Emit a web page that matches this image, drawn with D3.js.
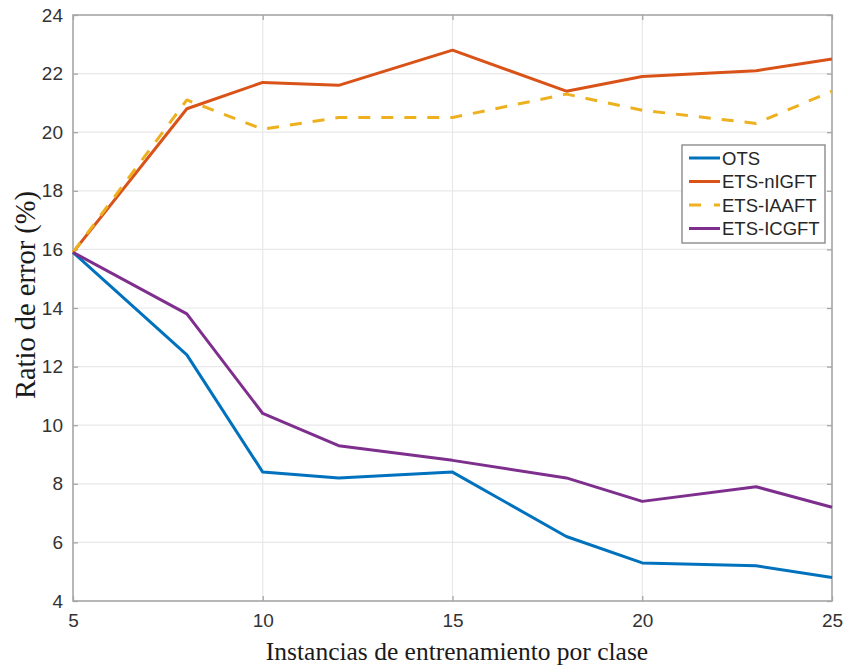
<!DOCTYPE html>
<html>
<head>
<meta charset="utf-8">
<script src="https://cdn.jsdelivr.net/npm/d3@7"></script>
<style>
  html, body { margin: 0; padding: 0; background: #fff; }
  svg { display: block; }
</style>
</head>
<body>
<svg id="chart" width="848" height="669"></svg>
<script>
// Training instances per class (x) and error ratio (%) for each method
const instances = [5, 8, 10, 12, 15, 18, 20, 23, 25];
const ots    = [15.9, 12.4, 8.4, 8.2, 8.4, 6.2, 5.3, 5.2, 4.8];
const nIGFT  = [15.9, 20.8, 21.7, 21.6, 22.8, 21.4, 21.9, 22.1, 22.5];
const iAAFT  = [15.9, 21.1, 20.1, 20.5, 20.5, 21.3, 20.75, 20.3, 21.4];
const iCGFT  = [15.9, 13.8, 10.4, 9.3, 8.8, 8.2, 7.4, 7.9, 7.2];
const seriesNames = ["OTS", "ETS-nIGFT", "ETS-IAAFT", "ETS-ICGFT"];
const xTicks = [5, 10, 15, 20, 25];
const yTicks = [4, 6, 8, 10, 12, 14, 16, 18, 20, 22, 24];

const series = [
  { name: seriesNames[0], values: ots,   color: "#0072BD", dash: null },
  { name: seriesNames[1], values: nIGFT, color: "#D95319", dash: null },
  { name: seriesNames[2], values: iAAFT, color: "#EDB120", dash: "12,11" },
  { name: seriesNames[3], values: iCGFT, color: "#7E2F8E", dash: null }
];

const svg = d3.select("#chart");
const m = { left: 73, right: 16, top: 15, bottom: 68 };
const W = 848, H = 669;
const pw = W - m.left - m.right, ph = H - m.top - m.bottom;

const x = d3.scaleLinear().domain([5, 25]).range([m.left, m.left + pw]);
const y = d3.scaleLinear().domain([4, 24]).range([m.top + ph, m.top]);

const g = svg.append("g");

// grid
g.selectAll("line.gx").data(xTicks.slice(1, -1)).join("line")
  .attr("x1", d => x(d)).attr("x2", d => x(d))
  .attr("y1", m.top).attr("y2", m.top + ph)
  .attr("stroke", "#e8e8e8").attr("stroke-width", 1.2);
g.selectAll("line.gy").data(yTicks.slice(1, -1)).join("line")
  .attr("x1", m.left).attr("x2", m.left + pw)
  .attr("y1", d => y(d)).attr("y2", d => y(d))
  .attr("stroke", "#e8e8e8").attr("stroke-width", 1.2);

// axes (inward ticks on all four sides)
const axisStyle = sel => {
  sel.select(".domain").remove();
  sel.selectAll(".tick line").attr("stroke", "#a6a6a6").attr("stroke-width", 1.3);
  sel.selectAll(".tick text").attr("fill", "#333")
    .style("font-family", "'Liberation Sans', Arial, sans-serif").style("font-size", "19px");
};
svg.append("g").attr("transform", `translate(0,${m.top + ph})`)
  .call(d3.axisBottom(x).tickValues(xTicks).tickSizeInner(-5).tickSizeOuter(0).tickPadding(13))
  .call(axisStyle);
svg.append("g").attr("transform", `translate(0,${m.top})`)
  .call(d3.axisTop(x).tickValues(xTicks).tickSizeInner(-5).tickSizeOuter(0).tickFormat(""))
  .call(axisStyle);
svg.append("g").attr("transform", `translate(${m.left},0)`)
  .call(d3.axisLeft(y).tickValues(yTicks).tickSizeInner(-5).tickSizeOuter(0).tickPadding(10))
  .call(axisStyle);
svg.append("g").attr("transform", `translate(${m.left + pw},0)`)
  .call(d3.axisRight(y).tickValues(yTicks).tickSizeInner(-5).tickSizeOuter(0).tickFormat(""))
  .call(axisStyle);

// plot box
svg.append("rect").attr("x", m.left).attr("y", m.top).attr("width", pw).attr("height", ph)
  .attr("fill", "none").attr("stroke", "#a6a6a6").attr("stroke-width", 1.6);

// lines
const line = d3.line().x((d, i) => x(instances[i])).y(d => y(d));
svg.selectAll("path.series").data(series).join("path")
  .attr("class", "series")
  .attr("d", d => line(d.values))
  .attr("fill", "none")
  .attr("stroke", d => d.color)
  .attr("stroke-width", 3)
  .attr("stroke-linejoin", "round")
  .attr("stroke-dasharray", d => d.dash);

// axis titles
svg.append("text").attr("x", 457).attr("y", 660).attr("text-anchor", "middle")
  .style("font-family", "'Liberation Serif', 'Times New Roman', serif").style("font-size", "25.5px")
  .attr("fill", "#1a1a1a").text("Instancias de entrenamiento por clase");
svg.append("text").attr("transform", "translate(35,295) rotate(-90)").attr("text-anchor", "middle")
  .style("font-family", "'Liberation Serif', 'Times New Roman', serif").style("font-size", "28.5px")
  .attr("fill", "#1a1a1a").text("Ratio de error (%)");

// legend
const lg = svg.append("g").attr("transform", "translate(682,145)");
lg.append("rect").attr("width", 143).attr("height", 98)
  .attr("fill", "#fff").attr("stroke", "#8c8c8c").attr("stroke-width", 1.4);
const items = lg.selectAll("g.item").data(series).join("g")
  .attr("transform", (d, i) => `translate(0,${13 + i * 23.5})`);
items.append("line").attr("x1", 7).attr("x2", 38).attr("y1", 0).attr("y2", 0)
  .attr("stroke", d => d.color).attr("stroke-width", 3)
  .attr("stroke-dasharray", d => d.dash ? "12,13" : null);
items.append("text").attr("x", 40).attr("y", 6.5)
  .style("font-family", "'Liberation Sans', Arial, sans-serif").style("font-size", "18.5px")
  .attr("fill", "#262626").text(d => d.name);
</script>
</body>
</html>
